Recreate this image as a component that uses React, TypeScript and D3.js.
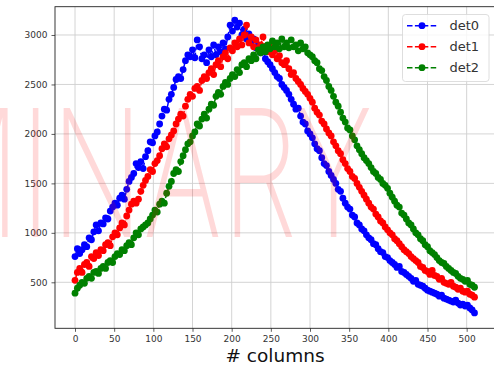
import React, { useEffect, useRef } from 'react'
import * as d3 from 'd3'

// samples taken every 3rd column of the detector
const colStep = 3

const det0 = [
  760, 840, 790, 830, 880, 860, 950, 930, 1010, 1080,
  1020, 1100, 1090, 1150, 1140, 1220, 1260, 1300, 1280, 1350,
  1380, 1340, 1440, 1520, 1560, 1600, 1700, 1660, 1720, 1650,
  1770, 1830, 1920, 1910, 1980, 2020, 2100, 2180, 2250, 2240,
  2350, 2400, 2470, 2550, 2580, 2560, 2650, 2740, 2800, 2780,
  2850, 2770, 2950, 2880, 2760, 2800, 2720, 2850, 2780, 2900,
  2800, 2880, 2830, 2920, 2860, 2980, 3100, 3040, 3150, 3080,
  3120, 3000, 3060, 2960, 3010, 2920, 2960, 2870, 2900, 2820,
  2850, 2760, 2730, 2700, 2660, 2620, 2580, 2560, 2500, 2470,
  2440, 2400, 2350, 2300, 2250, 2260, 2180, 2120, 2100, 2030,
  2000, 1960, 1900, 1850, 1830, 1760, 1700, 1680, 1620, 1580,
  1540, 1500, 1440, 1420, 1350, 1300, 1260, 1240, 1180, 1160,
  1100, 1080, 1040, 1020, 980, 950, 930, 890, 880, 840,
  810, 800, 760, 750, 720, 700, 680, 650, 660, 610,
  600, 580, 560, 540, 510, 520, 480, 470, 460, 440,
  420, 410, 400, 390, 380, 360, 370, 340, 330, 320,
  310, 300, 320, 290, 270, 280, 260, 270, 240, 220,
  190,
]

const det1 = [
  520, 600, 640, 600, 680, 700, 660, 760, 740, 800,
  770, 830, 820, 880, 900, 870, 960, 1000, 980, 1050,
  1100, 1080, 1170, 1230, 1290, 1320, 1300, 1340, 1420, 1480,
  1530, 1570, 1640, 1620, 1700, 1730, 1780, 1850, 1900, 1870,
  1950, 1990, 2030, 2100, 2150, 2200, 2180, 2280, 2350, 2400,
  2380, 2460, 2480, 2440, 2540, 2580, 2560, 2620, 2660, 2600,
  2700, 2740, 2680, 2780, 2820, 2760, 2870, 2840, 2920, 2880,
  2960, 2900, 3000, 3100, 2920, 2980, 2880, 2950, 2860, 2900,
  2980, 2870, 2830, 2880, 2800, 2840, 2760, 2790, 2720, 2700,
  2740, 2660, 2600, 2620, 2560, 2530, 2500, 2460, 2430, 2400,
  2360, 2320, 2260, 2220, 2190, 2130, 2100, 2050, 2010, 1980,
  1920, 1880, 1830, 1800, 1740, 1700, 1650, 1620, 1570, 1550,
  1500, 1460, 1420, 1380, 1340, 1300, 1260, 1240, 1190, 1160,
  1120, 1100, 1060, 1030, 1000, 980, 940, 920, 890, 860,
  830, 810, 790, 760, 740, 720, 700, 660, 650, 620,
  610, 580, 620, 570, 560, 530, 540, 500, 490, 480,
  500, 460, 450, 430, 440, 410, 400, 410, 380, 370,
  350,
]

const det2 = [
  390, 440, 470, 500, 490, 540, 560, 540, 600, 610,
  590, 640, 660, 640, 700, 720, 700, 760, 790, 780,
  830, 820, 870, 900, 880, 950, 1000, 980, 1040, 1060,
  1080, 1100, 1140, 1180, 1230, 1210, 1290, 1320, 1300, 1400,
  1470, 1520, 1600, 1640, 1620, 1720, 1780, 1840, 1900, 1920,
  1980, 2020, 2100, 2080, 2150, 2200, 2160, 2250, 2300, 2290,
  2380, 2420, 2400, 2480, 2520, 2500, 2560, 2600, 2580, 2650,
  2620, 2700, 2720, 2680, 2760, 2740, 2800, 2760, 2850, 2820,
  2880, 2830, 2900, 2860, 2940, 2880, 2920, 2860, 2960, 2880,
  2920, 2870, 2950, 2880, 2900, 2840, 2920, 2860, 2880, 2820,
  2800, 2780, 2740, 2720, 2660, 2640, 2580, 2540, 2480, 2440,
  2380, 2320, 2280, 2220, 2160, 2120, 2060, 2040, 1980, 1940,
  1880, 1840, 1800, 1760, 1730, 1700, 1660, 1620, 1600, 1560,
  1540, 1500, 1480, 1450, 1400, 1360, 1320, 1280, 1260, 1200,
  1180, 1140, 1100, 1080, 1040, 1000, 980, 940, 920, 880,
  860, 820, 800, 780, 750, 720, 700, 690, 660, 640,
  620, 600, 590, 560, 540, 530, 510, 520, 480, 470,
  450,
]

const seriesNames = ['det0', 'det1', 'det2']
const seriesColors = ['blue', 'red', 'green']
const xTicks = [0, 50, 100, 150, 200, 250, 300, 350, 400, 450, 500]
const yTicks = [500, 1000, 1500, 2000, 2500, 3000]

const Chart = () => {
  const ref = useRef<HTMLDivElement>(null)

  useEffect(() => {
    const width = 494
    const height = 365
    const left = 55
    const right = 495.3
    const top = 6.7
    const bottom = 328.3
    const font = "'DejaVu Sans', sans-serif"

    const x = d3.scaleLinear().domain([-25.55, 536.55]).range([left, right])
    const y = d3.scaleLinear().domain([35, 3286]).range([bottom, top])

    const svg = d3
      .create('svg')
      .attr('width', width)
      .attr('height', height)
      .attr('viewBox', [0, 0, width, height])
      .style('display', 'block')
      .style('font-family', font)

    svg.append('rect').attr('width', width).attr('height', height).attr('fill', 'white')

    // grid
    const grid = svg.append('g').attr('stroke', '#cfcfcf').attr('stroke-width', 0.9)
    grid
      .selectAll('line.vx')
      .data(xTicks)
      .join('line')
      .attr('x1', (d) => x(d))
      .attr('x2', (d) => x(d))
      .attr('y1', top)
      .attr('y2', bottom)
    grid
      .selectAll('line.hy')
      .data(yTicks)
      .join('line')
      .attr('x1', left)
      .attr('x2', right)
      .attr('y1', (d) => y(d))
      .attr('y2', (d) => y(d))

    // data, drawn in order so det2 ends on top
    const allSeries = [det0, det1, det2]
    allSeries.forEach((vals, i) => {
      const pts = vals.map((v, j) => [j * colStep, v] as [number, number])
      const g = svg.append('g')
      g.append('path')
        .datum(pts)
        .attr('fill', 'none')
        .attr('stroke', seriesColors[i])
        .attr('stroke-width', 1.5)
        .attr('stroke-dasharray', '5.5 2.4')
        .attr('d', d3.line().x((d) => x(d[0])).y((d) => y(d[1])))
      g.selectAll('circle')
        .data(pts)
        .join('circle')
        .attr('cx', (d) => x(d[0]))
        .attr('cy', (d) => y(d[1]))
        .attr('r', 3.4)
        .attr('fill', seriesColors[i])
    })

    // axes
    svg
      .append('g')
      .attr('transform', `translate(0,${bottom})`)
      .call(d3.axisBottom(x).tickValues(xTicks).tickFormat(d3.format('d')).tickSize(3.5).tickPadding(3.5).tickSizeOuter(0))
      .call((g) => g.select('.domain').remove())
      .call((g) => g.selectAll('text').attr('font-size', 9).attr('fill', '#333').attr('font-family', font))
      .call((g) => g.selectAll('line').attr('stroke', '#333').attr('stroke-width', 0.8))

    svg
      .append('g')
      .attr('transform', `translate(${left},0)`)
      .call(d3.axisLeft(y).tickValues(yTicks).tickFormat(d3.format('d')).tickSize(3.5).tickPadding(4).tickSizeOuter(0))
      .call((g) => g.select('.domain').remove())
      .call((g) => g.selectAll('text').attr('font-size', 9).attr('fill', '#333').attr('font-family', font))
      .call((g) => g.selectAll('line').attr('stroke', '#333').attr('stroke-width', 0.8))

    // frame
    svg
      .append('rect')
      .attr('x', left)
      .attr('y', top)
      .attr('width', right - left)
      .attr('height', bottom - top)
      .attr('fill', 'none')
      .attr('stroke', '#222')
      .attr('stroke-width', 0.9)

    svg
      .append('text')
      .attr('x', 275)
      .attr('y', 362)
      .attr('text-anchor', 'middle')
      .attr('font-size', 18.5)
      .attr('fill', '#111')
      .text('# columns')

    // legend
    const lg = svg.append('g')
    lg.append('rect')
      .attr('x', 402.5)
      .attr('y', 14.5)
      .attr('width', 86.5)
      .attr('height', 67)
      .attr('rx', 3)
      .attr('fill', 'white')
      .attr('fill-opacity', 0.8)
      .attr('stroke', '#d5d5d5')
      .attr('stroke-width', 0.8)
    seriesNames.forEach((name, i) => {
      const ly = 25.7 + i * 21
      lg.append('line')
        .attr('x1', 407)
        .attr('x2', 437)
        .attr('y1', ly)
        .attr('y2', ly)
        .attr('stroke', seriesColors[i])
        .attr('stroke-width', 1.5)
        .attr('stroke-dasharray', '5.5 2.4')
      lg.append('circle').attr('cx', 422).attr('cy', ly).attr('r', 3.4).attr('fill', seriesColors[i])
      lg.append('text')
        .attr('x', 449.5)
        .attr('y', ly)
        .attr('dy', '0.35em')
        .attr('font-size', 13)
        .attr('fill', '#333')
        .text(name)
    })

    // watermark, semi-transparent over everything
    svg
      .append('text')
      .attr('transform', 'translate(373,237) scale(0.68,1)')
      .attr('text-anchor', 'end')
      .attr('font-family', 'Inter, sans-serif')
      .attr('font-weight', 200)
      .attr('font-size', 177)
      .attr('fill', 'red')
      .attr('fill-opacity', 0.15)
      .text('PRELIMINARY')

    d3.select(ref.current).selectAll('*').remove()
    ref.current?.appendChild(svg.node() as SVGSVGElement)
  }, [])

  return <div ref={ref} style={{ position: 'absolute', left: 0, top: 0 }}></div>
}

export default function App() {
  return <Chart />
}
